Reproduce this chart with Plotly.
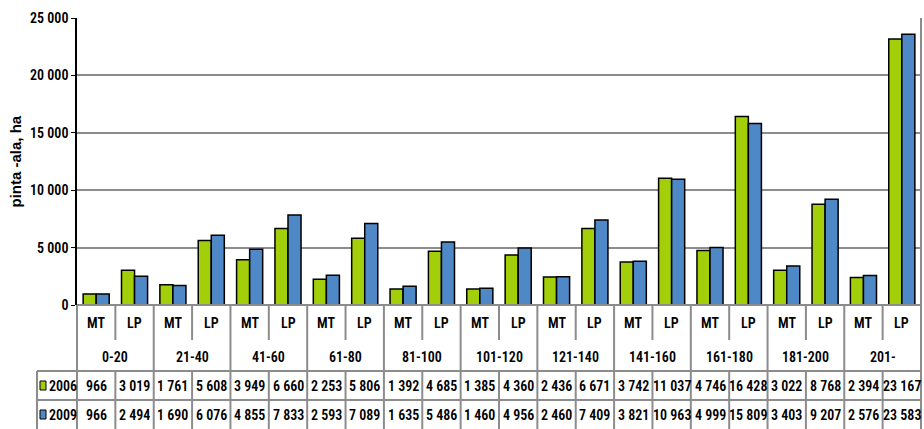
import plotly.graph_objects as go

# ---------------- data ----------------
groups = ["0-20", "21-40", "41-60", "61-80", "81-100", "101-120",
          "121-140", "141-160", "161-180", "181-200", "201-"]
types = ["MT", "LP"]
series_names = ["2006", "2009"]
v2006 = [966, 3019, 1761, 5608, 3949, 6660, 2253, 5806, 1392, 4685, 1385,
         4360, 2436, 6671, 3742, 11037, 4746, 16428, 3022, 8768, 2394, 23167]
v2009 = [966, 2494, 1690, 6076, 4855, 7833, 2593, 7089, 1635, 5486, 1460,
         4956, 2460, 7409, 3821, 10963, 4999, 15809, 3403, 9207, 2576, 23583]
y_ticks = [0, 5000, 10000, 15000, 20000, 25000]
y_title = "pinta -ala, ha"

# ---------------- style / layout ----------------
W, H = 924, 429
L, R, T, B = 77, 921, 18, 305      # plot area in pixels
GREEN = "#A2CF0A"
BLUE = "#4F88C6"
GRID = "#8C8C8C"
FONT = "Roboto Condensed, Liberation Sans Narrow, Arial Narrow, sans-serif"
FS = 14
WEIGHT = 600

def fmt(v):
    return f"{v:,}".replace(",", " ")

n = len(v2006)
xs = list(range(n))

def pxx(p):
    return (p - L) / (R - L)

def pxy(p):
    return (B - p) / (B - T)

fig = go.Figure()
for name, vals, col in [(series_names[0], v2006, GREEN), (series_names[1], v2009, BLUE)]:
    fig.add_trace(go.Bar(x=xs, y=vals, name=name,
                         marker=dict(color=col, line=dict(color="black", width=1.5)),
                         showlegend=False, hoverinfo="y"))

shapes = []
annotations = []

def line(x0, y0, x1, y1, color=GRID, width=2):
    shapes.append(dict(type="line", xref="paper", yref="paper",
                       x0=x0, y0=y0, x1=x1, y1=y1,
                       line=dict(color=color, width=width), layer="above"))

ROW_TOP, ROW1_END, ROW2_END, ROW3_END, ROW4_END = 305, 340, 371, 400, 440
LEG_L = 37

# vertical lines of the table
for k in range(n + 1):
    xp = k / n
    if k % 2 == 0:
        line(xp, pxy(ROW_TOP), xp, pxy(ROW4_END))
    else:
        line(xp, pxy(ROW_TOP), xp, pxy(ROW1_END))
        line(xp, pxy(ROW2_END), xp, pxy(ROW4_END))
# right border up to top gridline
line(1, 1, 1, pxy(ROW4_END))
# horizontal lines
line(0, 0, 1, 0)
line(pxx(LEG_L), pxy(ROW2_END), 1, pxy(ROW2_END))
line(pxx(LEG_L), pxy(ROW3_END), 1, pxy(ROW3_END))
line(pxx(LEG_L), pxy(ROW2_END), pxx(LEG_L), pxy(ROW4_END))

def text(xp, yp, s, anchor="center", size=FS, fam=FONT, angle=0, weight=WEIGHT):
    annotations.append(dict(xref="paper", yref="paper", x=xp, y=yp, text=s,
                            showarrow=False, xanchor=anchor, yanchor="middle", textangle=angle,
                            font=dict(family=fam, size=size, color="black", weight=weight)))

# MT/LP row
for i in range(n):
    text((i + 0.5) / n, pxy(323), types[i % 2])
# group row
for g, name in enumerate(groups):
    text((2 * g + 1) / n, pxy(357), name)
# value rows
for i in range(n):
    text((i + 0.5) / n, pxy(386), fmt(v2006[i]))
    text((i + 0.5) / n, pxy(415), fmt(v2009[i]))
# legend column
for name, col, yc in [(series_names[0], GREEN, 386), (series_names[1], BLUE, 415)]:
    shapes.append(dict(type="rect", xref="paper", yref="paper",
                       x0=pxx(40), x1=pxx(46), y0=pxy(yc - 5), y1=pxy(yc + 4),
                       fillcolor=col, line=dict(color="black", width=1), layer="above"))
    text(pxx(47), pxy(yc), name, anchor="left")

# y-axis title
text(pxx(15), 0.5, y_title, size=15, fam="Liberation Sans, Arial, sans-serif", angle=-90, weight="bold")

fig.update_layout(
    width=W, height=H,
    margin=dict(l=L, r=W - R, t=T, b=H - B, pad=0),
    paper_bgcolor="white", plot_bgcolor="white",
    barmode="group", bargap=0.32, bargroupgap=0,
    shapes=shapes, annotations=annotations,
    xaxis=dict(range=[-0.5, n - 0.5], showticklabels=False, showgrid=False, zeroline=False,
               showline=False, ticks="", fixedrange=True),
    yaxis=dict(range=[0, y_ticks[-1]], tickvals=y_ticks, ticktext=[fmt(v) for v in y_ticks],
               showgrid=True, gridcolor=GRID, gridwidth=2, zeroline=False,
               showline=True, linecolor="black", linewidth=1.5,
               ticks="outside", ticklen=4, tickcolor="black", tickwidth=1,
               tickfont=dict(family=FONT, size=FS, color="black", weight=WEIGHT), fixedrange=True),
    font=dict(family=FONT, size=FS, color="black"),
)

fig.write_html("out.html", config={"displayModeBar": False},
               post_script="document.body.style.margin='0';")
